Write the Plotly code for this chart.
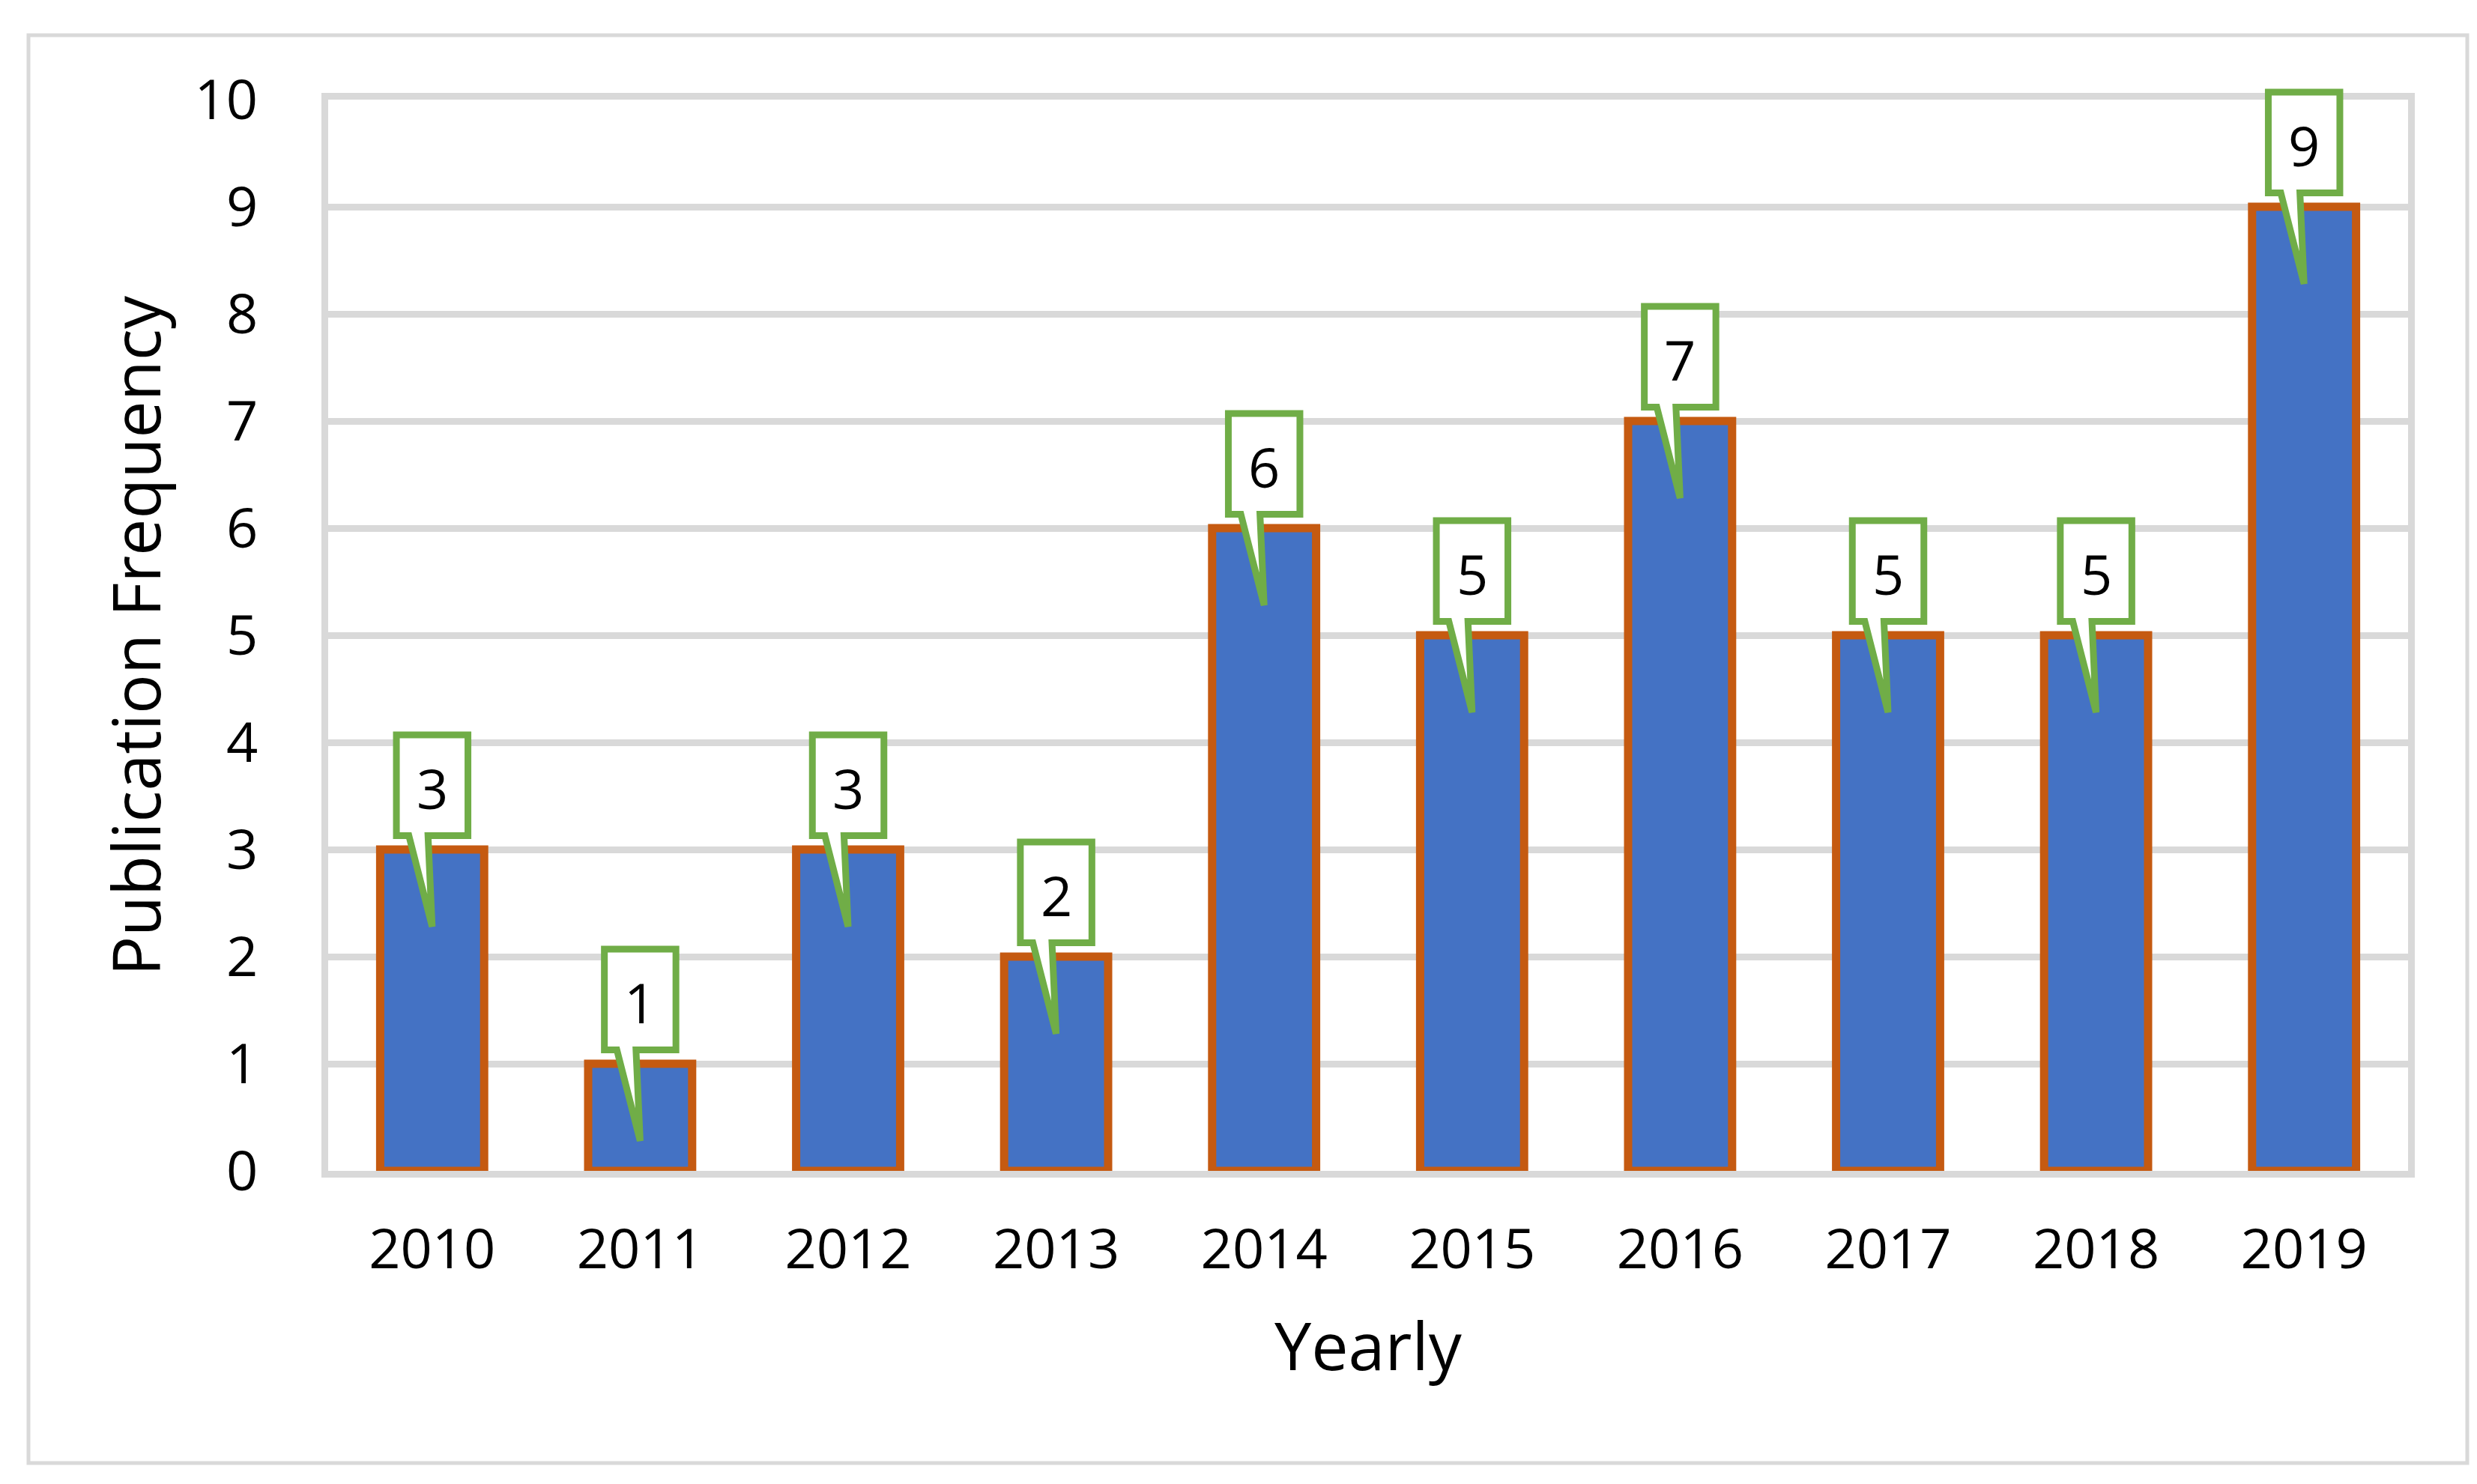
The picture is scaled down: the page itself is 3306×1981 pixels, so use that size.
import plotly.graph_objects as go

years = ["2010", "2011", "2012", "2013", "2014", "2015", "2016", "2017", "2018", "2019"]
counts = [3, 1, 3, 2, 6, 5, 7, 5, 5, 9]
y_ticks = list(range(0, 11))

W, H = 3306, 1981
ML, MR, MT, MB = 430, 100, 125, 426
GRID = "#D9D9D9"
FONT = "Open Sans"

fig = go.Figure()
fig.add_trace(go.Bar(
    x=list(range(len(years))), y=counts, width=0.5,
    marker=dict(color="#4472C4", line=dict(color="#C55A11", width=11)),
    hoverinfo="skip", showlegend=False,
))

shapes = []
annotations = []
ymax = 10.0
n = len(years)
for i, v in enumerate(counts):
    cx = (i + 0.5) / n
    hw = 0.0172
    top = (v + 1.07) / ymax
    bot = (v + 0.13) / ymax
    tip_y = (v - 0.72) / ymax
    bl = cx - 0.0112
    br = cx - 0.0020
    path = (f"M {cx-hw},{top} L {cx+hw},{top} L {cx+hw},{bot} L {br},{bot} "
            f"L {cx},{tip_y} L {bl},{bot} L {cx-hw},{bot} Z")
    shapes.append(dict(type="path", xref="paper", yref="paper", path=path,
                       fillcolor="white", line=dict(color="#70AD47", width=9),
                       layer="above"))
    annotations.append(dict(x=i, y=v + 0.58, xref="x", yref="y", text=str(v),
                            showarrow=False, font=dict(family=FONT, size=74, color="#000000"),
                            xanchor="center", yanchor="middle"))

# outer frame
PW, PH = W - ML - MR, H - MT - MB
shapes.append(dict(type="rect", xref="paper", yref="paper",
                   x0=(30 - ML) / PW, x1=(3285 - ML) / PW,
                   y0=-(1945 - (H - MB)) / PH, y1=((H - MB) - 39) / PH,
                   line=dict(color=GRID, width=5), fillcolor="rgba(0,0,0,0)", layer="below"))

annotations.append(dict(x=0.5, y=-0.162, xref="paper", yref="paper", text="Yearly",
                        showarrow=False, font=dict(family=FONT, size=88, color="#000000"),
                        xanchor="center", yanchor="middle"))
annotations.append(dict(x=-0.093, y=0.5, xref="paper", yref="paper", text="Publication Frequency",
                        showarrow=False, textangle=-90,
                        font=dict(family=FONT, size=88, color="#000000"),
                        xanchor="center", yanchor="middle"))

fig.update_layout(
    width=W, height=H,
    margin=dict(l=ML, r=MR, t=MT, b=MB),
    paper_bgcolor="white", plot_bgcolor="white",
    shapes=shapes, annotations=annotations,
)
fig.update_xaxes(
    range=[-0.5, n - 0.5], tickvals=list(range(n)), ticktext=years,
    showgrid=False, zeroline=False,
    showline=True, mirror=True, linecolor=GRID, linewidth=9,
    ticks="", ticklabelstandoff=32,
    tickfont=dict(family=FONT, size=74, color="#000000"),
    layer="below traces",
)
fig.update_yaxes(
    range=[0, 10], tickvals=y_ticks,
    showgrid=True, gridcolor=GRID, gridwidth=9, zeroline=False,
    showline=True, mirror=True, linecolor=GRID, linewidth=9,
    ticks="", ticklabelstandoff=70,
    tickfont=dict(family=FONT, size=74, color="#000000"),
    layer="below traces",
)

fig.write_html("out.html")
